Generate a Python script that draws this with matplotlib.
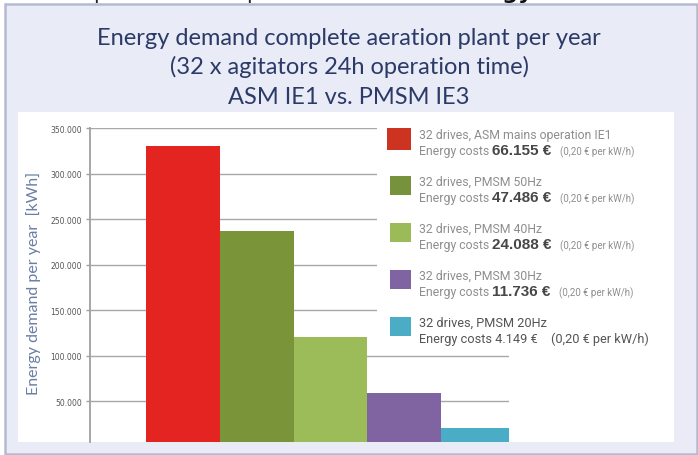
import matplotlib.pyplot as plt
from matplotlib.patches import Rectangle
from matplotlib.ticker import FuncFormatter

W, H = 698, 456

# energy demand per year in kWh (costs / 0.20 EUR)
labels = ["32 drives, ASM mains operation IE1", "32 drives, PMSM 50Hz",
          "32 drives, PMSM 40Hz", "32 drives, PMSM 30Hz", "32 drives, PMSM 20Hz"]
costs = ["66.155 €", "47.486 €", "24.088 €", "11.736 €", "4.149 €"]
demand = [330775, 237430, 120440, 58680, 20745]
bar_colors = ["#e32421", "#7a943a", "#9cbb59", "#8064a2", "#4bacc6"]
legend_colors = ["#cc3321", "#76923c", "#9bbb59", "#8064a2", "#4bacc6"]
yticks = [50000, 100000, 150000, 200000, 250000, 300000, 350000]


def fx(x):
    return x / W


def fy(y):
    return 1 - y / H


fig = plt.figure(figsize=(W / 100, H / 100), dpi=100)
fig.patch.set_facecolor("white")

# panel background and the white chart area
fig.add_artist(Rectangle((fx(5), fy(455)), fx(692), 450 / H, facecolor="#e9ecf6",
                         edgecolor="#b5bad2", lw=1.8, zorder=0))
fig.add_artist(Rectangle((fx(18), fy(442.5)), fx(656), 329.5 / H, facecolor="white",
                         edgecolor="none", zorder=0.5))

# cut-off heading above the panel
fig.text(fx(100), fy(-1), "p", fontsize=15, color="#222", va="baseline", ha="center")
fig.text(fx(253), fy(-1), "p", fontsize=15, color="#222", va="baseline", ha="center")
fig.text(fx(533), fy(-1), "energy", fontsize=16, color="#111", fontweight="bold",
         va="baseline", ha="right")

title = ["Energy demand complete aeration plant per year",
         "(32 x agitators 24h operation time)",
         "ASM IE1 vs. PMSM IE3"]
for i, line in enumerate(title):
    fig.text(fx(349), fy(45 + 29.5 * i), line, fontsize=17, color="#2b3a67",
             family=["Lato", "DejaVu Sans"], ha="center", va="baseline")

ax = fig.add_axes([fx(90), fy(442.5), (509 - 90) / W, (442.5 - 129.3) / H], zorder=1)
ax.patch.set_alpha(0)
x = list(range(len(demand)))
ax.bar(x, demand, width=1.0, color=bar_colors, zorder=2)
ax.set_xlim(-1.26, 4.42)
ax.set_ylim(5800, 350000)
ax.set_yticks(yticks)
ax.yaxis.set_major_formatter(FuncFormatter(lambda v, p: f"{int(v):,}".replace(",", ".")))
ax.tick_params(axis="y", labelsize=5.5, labelcolor="#555555", color="#a0a0a0",
               length=3, width=1, pad=3)
ax.set_xticks([])
ax.grid(axis="y", color="#a8a8a8", lw=1, zorder=1)
for s in ["top", "right", "bottom"]:
    ax.spines[s].set_visible(False)
ax.spines["left"].set_color("#a0a0a0")
ax.spines["left"].set_linewidth(1.3)

fig.text(fx(33.5), fy(283.5), "Energy demand per year  [kWh]", rotation=90,
         fontsize=11.5, color="#6a7fa3", family=["Lato", "DejaVu Sans"],
         ha="center", va="center")

# legend block on white background over the chart
fig.add_artist(Rectangle((fx(377), fy(348)), fx(297), 235 / H, facecolor="white",
                         edgecolor="none", zorder=4))

lfont = ["Roboto", "DejaVu Sans"]
fig.canvas.draw()
renderer = fig.canvas.get_renderer()


def chain(x0, y, pieces):
    xp = x0
    for txt, kw, gap in pieces:
        t = fig.text(fx(xp), fy(y), txt, va="baseline", ha="left", zorder=6, **kw)
        ext = t.get_window_extent(renderer)
        xp = ext.x1 + gap


for i in range(len(labels)):
    y0 = 129 + 47 * i
    if i == 0:
        fig.add_artist(Rectangle((fx(387), fy(151)), fx(24), 22 / H,
                                 facecolor=legend_colors[i], edgecolor="none", zorder=5))
    else:
        fig.add_artist(Rectangle((fx(390), fy(y0 + 20)), fx(21), 19 / H,
                                 facecolor=legend_colors[i], edgecolor="none", zorder=5))
    last = i == len(labels) - 1
    grey = "#555555" if last else "#8e8e8e"
    fs = 9.2 if last else 8.8
    fig.text(fx(419), fy(y0 + 10), labels[i], fontsize=fs, color=grey, family=lfont,
             va="baseline", ha="left", zorder=6)
    if last:
        chain(419, y0 + 26, [
            ("Energy costs " + costs[i], dict(fontsize=fs, color=grey, family=lfont), 13),
            ("(0,20 € per kW/h)", dict(fontsize=fs, color=grey, family=lfont), 0)])
    else:
        chain(419, y0 + 26, [
            ("Energy costs", dict(fontsize=fs, color=grey, family=lfont), 3),
            (costs[i], dict(fontsize=11, color="#474747", fontweight="bold",
                            family=["Liberation Sans", "DejaVu Sans"]), 8),
            ("(0,20 € per kW/h)", dict(fontsize=7, color=grey, family=lfont), 0)])

fig.savefig("out.png", dpi=100)
